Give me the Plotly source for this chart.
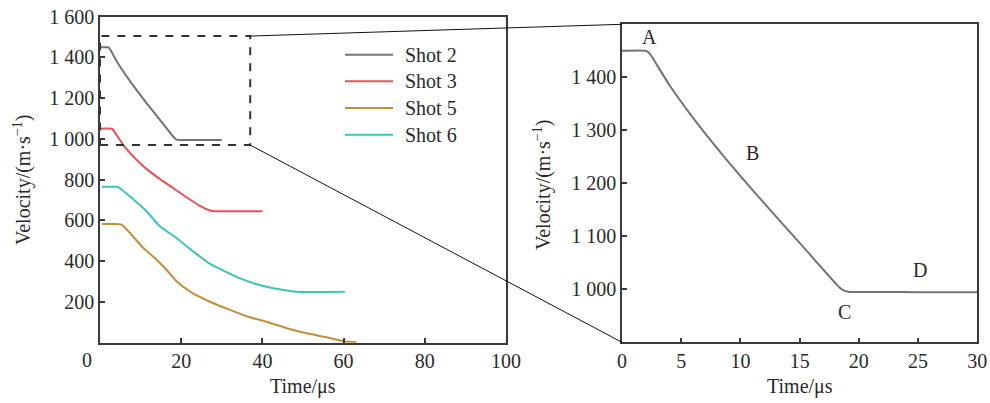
import plotly.graph_objects as go

# ---------------- data ----------------
shot2_t = [0, 2.0, 2.3, 2.6, 4, 6, 8.7, 11.7, 15, 18.3, 18.7, 19.1, 19.6, 22, 25, 30]
shot2_v = [1450, 1450, 1446, 1436, 1385.5, 1323.5, 1248, 1170, 1087.5, 1005, 998, 995.5, 994.8, 995, 994.5, 994.5]

shot3_t = [0, 2.9, 3.4, 5.7, 8.6, 11.5, 14.8, 18.0, 21.3, 24.6, 27.1, 28, 33, 40]
shot3_v = [1050, 1050, 1040, 971, 906, 852, 803, 759, 714, 672, 649, 645, 645, 645]

shot5_t = [0.5, 4.9, 5.6, 7.4, 10.7, 14, 16.4, 18.9, 22.2, 27.1, 32, 36.9, 41, 46, 50.9, 55.8, 60, 63.2]
shot5_v = [582, 582, 575, 538, 464, 406, 357, 300, 251, 201, 161, 125, 103, 71, 46, 27, 7, 2]

shot6_t = [0.5, 4.3, 4.9, 7.4, 11.5, 14.8, 18.9, 23, 27.1, 30.4, 34.5, 38.6, 42.7, 46.8, 49.3, 55, 60.3]
shot6_v = [765, 765, 758, 717, 644, 570, 513, 447, 387, 354, 316, 287, 267, 254, 249, 249, 250]

series_names = ["Shot 2", "Shot 3", "Shot 5", "Shot 6"]

left_xticks = [20, 40, 60, 80, 100]
left_yticks = [200, 400, 600, 800, 1000, 1200, 1400, 1600]
right_xticks = [0, 5, 10, 15, 20, 25, 30]
right_yticks = [1000, 1100, 1200, 1300, 1400]

zoom_box = dict(x0=0, x1=37, y0=970, y1=1505)
phase_labels = ["A", "B", "C", "D"]
phase_t = [2.3, 11.0, 18.75, 25.2]
phase_v = [1476, 1257, 958, 1037]


def fmt(v):
    return f"{v:,}".replace(",", " ")


# ---------------- layout constants ----------------
W, H = 990, 403
FONT = "Liberation Serif"
TXT = "#2a2a2a"
AX = "#3a3a3a"

L_dom_x = [100 / W, 506 / W]
L_dom_y = [1 - 342.7 / H, 1 - 16.7 / H]
R_dom_x = [622 / W, 977.3 / W]
R_dom_y = [1 - 342.3 / H, 1 - 24.3 / H]
L_xr, L_yr = [0, 100], [0, 1600]
R_xr, R_yr = [0, 30], [900, 1500]

colors = {"Shot 2": "#737373", "Shot 3": "#e8505a", "Shot 5": "#c38f36", "Shot 6": "#3cc3bc"}

fig = go.Figure()
series = [(series_names[0], shot2_t, shot2_v), (series_names[1], shot3_t, shot3_v),
          (series_names[2], shot5_t, shot5_v), (series_names[3], shot6_t, shot6_v)]
for name, t, v in series:
    fig.add_trace(go.Scatter(x=t, y=v, mode="lines", name=name, showlegend=False,
                             line=dict(color=colors[name], width=2, shape="spline", smoothing=0.5),
                             xaxis="x", yaxis="y"))
fig.add_trace(go.Scatter(x=shot2_t, y=shot2_v, mode="lines", showlegend=False,
                         line=dict(color=colors["Shot 2"], width=2, shape="spline", smoothing=0.5),
                         xaxis="x2", yaxis="y2"))

axis_common = dict(showgrid=False, zeroline=False, showline=True, linecolor=AX,
                   linewidth=1.5, mirror=True, ticks="inside", ticklen=5,
                   tickwidth=1.5, tickcolor=AX, automargin=False,
                   tickfont=dict(family=FONT, size=20, color=TXT))

fig.update_layout(
    width=W, height=H, margin=dict(l=0, r=0, t=0, b=0),
    paper_bgcolor="white", plot_bgcolor="white",
    font=dict(family=FONT, size=20, color=TXT),
    xaxis=dict(domain=L_dom_x, range=L_xr, tickvals=left_xticks,
               ticktext=[str(v) for v in left_xticks], anchor="y", **axis_common),
    yaxis=dict(domain=L_dom_y, range=L_yr, tickvals=left_yticks,
               ticktext=[fmt(v) for v in left_yticks], anchor="x", **axis_common),
    xaxis2=dict(domain=R_dom_x, range=R_xr, tickvals=right_xticks,
                ticktext=[str(v) for v in right_xticks], anchor="y2", **axis_common),
    yaxis2=dict(domain=R_dom_y, range=R_yr, tickvals=right_yticks,
                ticktext=[fmt(v) for v in right_yticks], anchor="x2", **axis_common),
    showlegend=False,
)

# dashed zoom box on left plot
fig.add_shape(type="rect", xref="x", yref="y", **zoom_box,
              line=dict(color="#333333", width=2, dash="8px,8px"))


def l2p(x, y):
    px = L_dom_x[0] + (x - L_xr[0]) / (L_xr[1] - L_xr[0]) * (L_dom_x[1] - L_dom_x[0])
    py = L_dom_y[0] + (y - L_yr[0]) / (L_yr[1] - L_yr[0]) * (L_dom_y[1] - L_dom_y[0])
    return px, py


p_top = l2p(zoom_box["x1"], zoom_box["y1"])
p_bot = l2p(zoom_box["x1"], zoom_box["y0"])
fig.add_shape(type="line", xref="paper", yref="paper",
              x0=p_top[0], y0=p_top[1], x1=R_dom_x[0], y1=R_dom_y[1],
              line=dict(color="#111111", width=1))
fig.add_shape(type="line", xref="paper", yref="paper",
              x0=p_bot[0], y0=p_bot[1], x1=R_dom_x[0], y1=R_dom_y[0],
              line=dict(color="#111111", width=1))

# legend (manual, to match key length and row spacing)
leg_rows_px = [54.7, 81.3, 108, 134.7]
for name, ypx in zip(series_names, leg_rows_px):
    yp = 1 - ypx / H
    fig.add_shape(type="line", xref="paper", yref="paper",
                  x0=345 / W, x1=393 / W, y0=yp, y1=yp,
                  line=dict(color=colors[name], width=2))
    fig.add_annotation(x=403 / W, y=yp, xref="paper", yref="paper", text=name,
                       xanchor="left", yanchor="middle", showarrow=False,
                       font=dict(family=FONT, size=20, color=TXT))

# phase labels on right plot
for lab, t, v in zip(phase_labels, phase_t, phase_v):
    fig.add_annotation(x=t, y=v, xref="x2", yref="y2", text=lab, showarrow=False,
                       xanchor="center", yanchor="middle",
                       font=dict(family=FONT, size=20, color=TXT))

# origin "0" on left plot
fig.add_annotation(x=86.7 / W, y=1 - 360 / H, xref="paper", yref="paper", text="0",
                   xanchor="center", yanchor="middle", showarrow=False,
                   font=dict(family=FONT, size=20, color=TXT))

# axis titles
ytitle = "Velocity/(m·s<sup>−1</sup>)"
for xpx, ypx in [(22, 180), (542, 185)]:
    fig.add_annotation(x=xpx / W, y=1 - ypx / H, xref="paper", yref="paper", text=ytitle,
                       textangle=-90, xanchor="center", yanchor="middle", showarrow=False,
                       font=dict(family=FONT, size=20, color=TXT))
for xpx in [303, 800]:
    fig.add_annotation(x=xpx / W, y=1 - 386 / H, xref="paper", yref="paper", text="Time/μs",
                       xanchor="center", yanchor="middle", showarrow=False,
                       font=dict(family=FONT, size=20, color=TXT))

fig.write_html("out.html")
